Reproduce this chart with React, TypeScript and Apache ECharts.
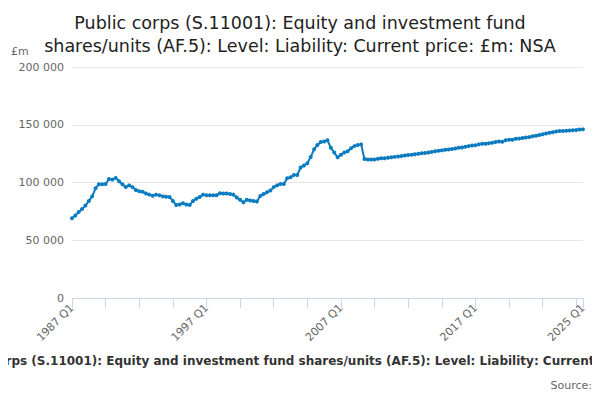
import { useEffect, useRef } from 'react';
import * as echarts from 'echarts';

// Quarterly values, 1987 Q1 - 2025 Q1, £m
const values = [
  69000, 71500, 74500, 77000, 80000, 84000, 88000, 95000, 98500, 98500,
  98700, 103000, 102500, 104000, 101000, 98500, 96000, 97500, 96000, 93500,
  92500, 92000, 90500, 89500, 88500, 89500, 89000, 88000, 87700, 87500,
  84000, 80500, 81000, 82000, 81000, 80500, 84000, 86000, 87500, 89500,
  89000, 89000, 89000, 89000, 90600, 90500, 90500, 90000, 89500, 87000,
  85000, 82800, 85000, 84500, 84000, 83500, 88300, 90000, 91500, 93000,
  96000, 97500, 98700, 98700, 103600, 104500, 106500, 106500, 113000, 114700,
  116600, 122000, 128700, 132500, 135000, 135500, 136600, 130000, 126000, 121800,
  124000, 126000, 127000, 129600, 131500, 132500, 133000, 120300, 120000, 120000,
  120000, 120500, 121000, 121000, 121500, 121800, 122200, 122500, 123000, 123300,
  123800, 124000, 124500, 124800, 125300, 125500, 126000, 126500, 127000, 127500,
  127800, 128300, 128500, 129000, 129500, 130000, 130300, 131000, 131500, 132000,
  132300, 133000, 133500, 133500, 134000, 134500, 135000, 135500, 135200, 136500,
  137000, 137000, 137800, 138000, 138500, 139000, 139300, 140000, 140500, 141200,
  141800, 142500, 143000, 143500, 144200, 144500, 144500, 144800, 145000, 145200,
  145500, 145800, 146000,
];

const startYear = 1987;
const categories = values.map((_, i) => `${startYear + Math.floor(i / 4)} Q${(i % 4) + 1}`);

const title = 'Public corps (S.11001): Equity and investment fund\nshares/units (AF.5): Level: Liability: Current price: £m: NSA';
const bottomTitle = 'Public corps (S.11001): Equity and investment fund shares/units (AF.5): Level: Liability: Current price: £m: NSA';
const font = 'DejaVu Sans';

export default function App() {
  const chartRef = useRef<HTMLDivElement>(null);

  useEffect(() => {
    if (!chartRef.current) return;
    const chart = echarts.init(chartRef.current, undefined, { renderer: 'svg' });
    const last = values.length - 1;

    chart.setOption({
      animation: false,
      backgroundColor: '#fff',
      textStyle: { fontFamily: font },
      title: {
        text: title,
        left: 'center',
        top: 6,
        textStyle: { fontSize: 17.5, fontWeight: 'normal', color: '#222', lineHeight: 23, fontFamily: font },
      },
      graphic: [
        { type: 'text', left: 11, top: 46, style: { text: '£m', fontSize: 11, fill: '#666', fontFamily: font } },
        {
          type: 'text', x: 322, y: 361,
          style: { text: bottomTitle, fontSize: 12, fontWeight: 'bold', fill: '#333', align: 'center', verticalAlign: 'middle', fontFamily: font },
        },
        {
          type: 'text', x: 592, y: 385,
          style: { text: 'Source:', fontSize: 11, fill: '#666', align: 'right', verticalAlign: 'middle', fontFamily: font },
        },
      ],
      grid: { left: 72, right: 17, top: 67, bottom: 102 },
      xAxis: {
        type: 'category',
        data: categories,
        boundaryGap: false,
        axisLine: { lineStyle: { color: '#ccd6eb' } },
        axisTick: {
          length: 10,
          lineStyle: { color: '#ccd6eb' },
          interval: (i: number) => i % 10 === 0 || i === last,
        },
        axisLabel: {
          rotate: 45,
          color: '#666',
          fontSize: 11,
          interval: (i: number) => i % 40 === 0 || i === last,
        },
      },
      yAxis: {
        type: 'value',
        min: 0,
        max: 200000,
        interval: 50000,
        axisLabel: {
          color: '#666',
          fontSize: 11,
          formatter: (v: number) => String(v).replace(/\B(?=(\d{3})+(?!\d))/g, ' '),
        },
        splitLine: { lineStyle: { color: '#e6e6e6' } },
      },
      series: [
        {
          type: 'line',
          data: values,
          symbol: 'circle',
          symbolSize: 4,
          showAllSymbol: true,
          itemStyle: { color: '#0b7cc1' },
          lineStyle: { color: '#0b7cc1', width: 2 },
        },
      ],
    });

    return () => chart.dispose();
  }, []);

  return <div ref={chartRef} style={{ width: 600, height: 400, margin: -8 }} />;
}
